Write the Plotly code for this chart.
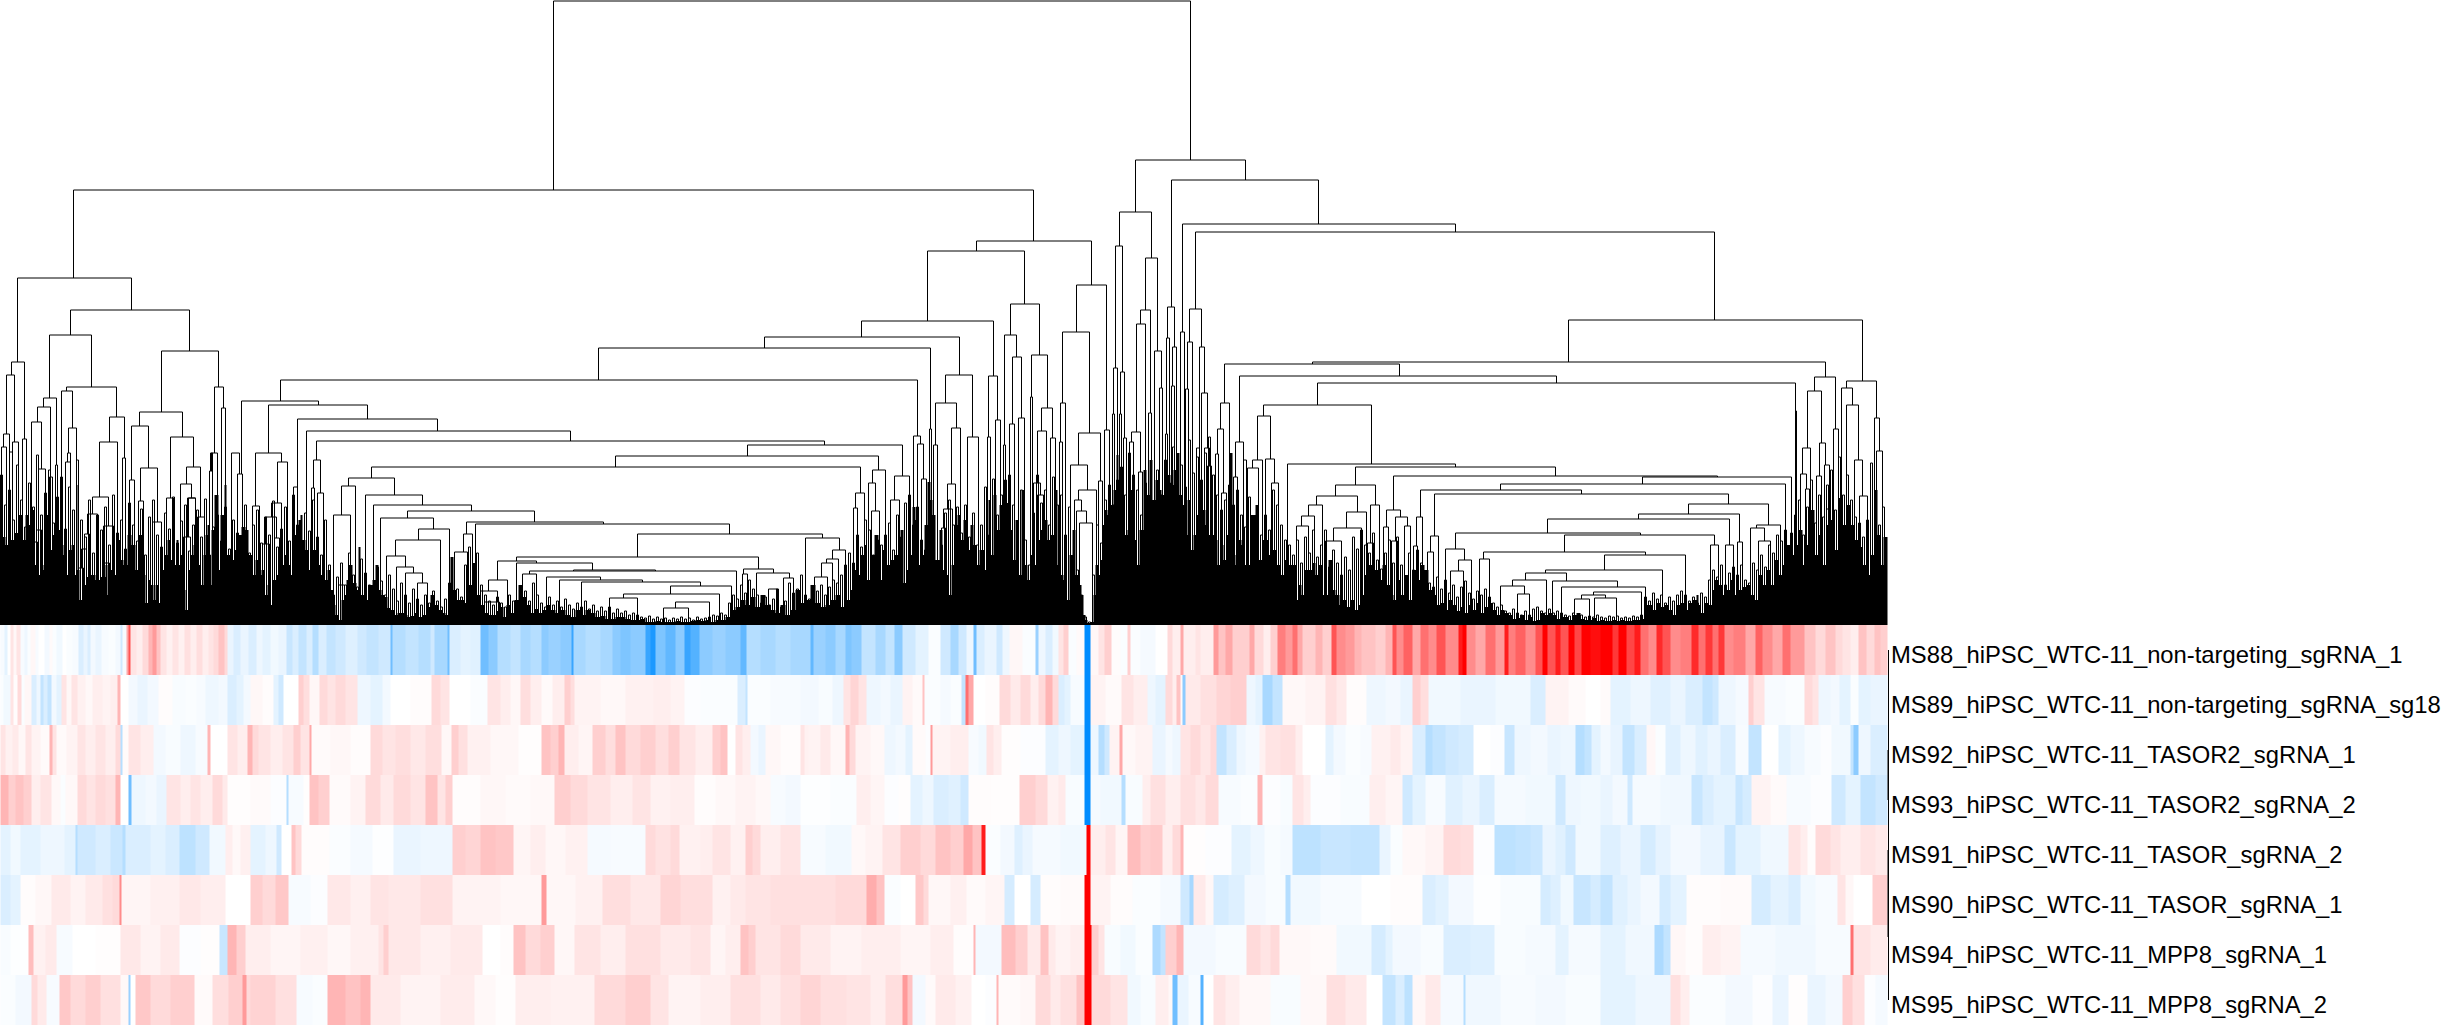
import plotly.graph_objects as go

row_labels = ["MS88_hiPSC_WTC-11_non-targeting_sgRNA_1", "MS89_hiPSC_WTC-11_non-targeting_sgRNA_sg18",
              "MS92_hiPSC_WTC-11_TASOR2_sgRNA_1", "MS93_hiPSC_WTC-11_TASOR2_sgRNA_2",
              "MS91_hiPSC_WTC-11_TASOR_sgRNA_2", "MS90_hiPSC_WTC-11_TASOR_sgRNA_1",
              "MS94_hiPSC_WTC-11_MPP8_sgRNA_1", "MS95_hiPSC_WTC-11_MPP8_sgRNA_2"]

# (end leaf position, expression score) runs for every row
ms88 = [(4,-.5),(7,-1.5),(10,0),(13,1.5),(16,.5),(20,1.5),(24,-.5),(27,-1),(30,-.3),(35,.5),(38,-.5),(44,0),(49,-.7),(52,.3),(56,-.3),(62,-.8),(66,0),(72,-.3),(78,-.5),(83,-2),(87,-1.2),(90,-2),(95,-.7),(101,-1.2),(108,-.5),(115,-.3),(120,-.7),(122,-2.5),(126,-.5),(128,4),(130,7),(136,1.5),(142,1),(148,2),(152,3.5),(156,4.5),(160,3),(166,1.5),(172,.8),(178,1.5),(184,.8),(190,1.7),(196,1),(202,1.8),(208,1),(213,1.5),(218,2),(224,3),(227,2),(233,-1.2),(240,-2),(248,-1.2),(256,-2),(262,-1),(270,-1.5),(278,-.8),(286,-1.2),(292,-2.8),(298,-2),(306,-3),(312,-2),(318,-3.5),(326,-2),(335,-3),(345,-2.5),(357,-1.8),(366,-2.5),(378,-3),(390,-2.5),(392,-6),(405,-3.5),(418,-3),(430,-3.5),(434,-2.5),(447,-4),(449,-6),(460,-2),(470,-1.5),(480,-1.7),(488,-6),(497,-5),(510,-3.5),(520,-3),(530,-4),(541,-3.5),(548,-5),(560,-4.5),(571,-5),(573,-8),(585,-4),(600,-3.5),(612,-4),(620,-5),(630,-5.5),(645,-5),(650,-8),(655,-9),(665,-5.5),(675,-6.5),(684,-5),(690,-8),(699,-7),(712,-5),(725,-4.5),(740,-5),(746,-6.5),(760,-3.5),(775,-4),(790,-3.5),(800,-4),
        (810,-4),(813,-6.5),(825,-4.5),(835,-5),(845,-4),(851,-5.5),(861,-5),(875,-3),(885,-4),(894,-3),(902,-5),(915,-2.5),(928,-1.5),(940,-.3),(950,-2.5),(958,-4),(966,-2.5),(973,-1),(976,-6),(984,-2),(996,-1.2),(1002,-2.5),(1009,-1),(1022,.5),(1035,-.3),(1038,-4.5),(1045,-1),(1052,-2),(1058,-.8),(1063,1.5),(1068,2.5),(1076,-.3),(1084,.3),(1090,-10),(1098,.5),(1104,1.5),(1111,2.5),(1120,.2),(1127,-.3),(1130,2.5),(1140,-.3),(1155,-.6),(1167,0),(1172,2),(1180,1),(1183,4),(1195,1),(1200,1.5),(1213,1),(1218,4.5),(1225,3),(1232,4),(1240,2.5),(1249,2.5),(1254,4),(1263,2),(1270,1),(1277,2.5),(1285,5.5),(1292,4.5),(1297,6),(1302,4),(1315,2.5),(1322,3.5),(1331,2.5),(1336,7),(1345,5),(1354,4.5),(1361,3.5),(1375,3),(1385,2.5),(1392,3.5),(1396,7),(1403,5),(1412,6.5),(1420,4),(1428,6),(1436,5),(1445,7),(1458,5),(1462,9),(1466,10),(1475,5),(1485,4),(1495,6),(1504,4.5),(1508,9),(1515,5.5),(1525,6.5),(1535,5),(1542,7),(1547,10),(1555,7),(1560,9),(1568,7),(1574,10),(1581,7.5),(1590,10),(1600,9.5),
        (1612,10),(1618,8),(1626,10),(1634,7.5),(1640,9),(1648,6),(1656,5),(1662,8.5),(1670,7),(1680,5),(1691,5.5),(1698,8.5),(1705,6),(1712,8),(1718,6),(1724,8),(1733,5),(1745,5.5),(1755,4),(1762,6.5),(1772,5),(1782,4),(1790,6),(1804,4.5),(1815,3),(1825,2),(1835,3),(1842,2),(1850,1.5),(1858,1),(1866,3),(1874,2),(1880,3),(1887,2.5)]
ms89 = [(3,-.3),(10,-.8),(13,1.5),(17,.2),(21,2),(24,-.3),(31,.5),(36,-2),(40,-1),(43,-3),(47,-2),(51,-3),(56,-.7),(61,-1.5),(66,1.5),(71,.5),(77,1.5),(85,.8),(92,.4),(102,1),(110,.7),(117,1),(120,3.5),(128,0),(137,-.7),(147,-1.2),(158,-.7),(172,.2),(185,-.4),(196,-.3),(205,-.5),(218,-1),(227,-.7),(236,-2),(243,-1.5),(250,-.7),(262,.5),(273,.2),(278,-1.5),(283,-2.5),(298,0),(303,2.5),(309,1.8),(319,.5),(327,2),(335,1.5),(345,2),(357,1.5),(370,-1),(382,-1.5),(390,-.7),(410,0),(431,.2),(440,2),(449,1.5),(470,0),(487,-.3),(500,1.5),(510,1),(520,.5),(530,1.8),(541,1),(552,.3),(564,1),(570,2.5),(574,1.8),(600,.7),(625,.4),(653,.8),(670,1),(684,.7),(700,-.2),(737,-.3),(745,-2),(747,-3),(770,-.3),(800,-.5),
        (818,-.7),(832,-.4),(843,-1),(850,1.5),(858,2.2),(866,1.5),(880,-1),(890,-.7),(902,-1.2),(912,.7),(922,.3),(924,3),(940,-.3),(950,-.6),(961,-.3),(965,-3),(968,6),(973,4),(985,0),(999,.2),(1010,2),(1020,1.2),(1030,2),(1038,1),(1045,2),(1052,3.5),(1058,2),(1064,-2),(1070,-1.5),(1084,-.5),(1090,-10),(1105,.7),(1121,.3),(1133,1.5),(1147,1),(1155,-1),(1165,-1.5),(1172,2),(1176,1),(1180,3),(1182,.3),(1185,-5),(1200,1.2),(1216,1.7),(1230,2.2),(1246,2.5),(1255,-1),(1262,-1.5),(1272,-4),(1282,-3),(1305,.4),(1325,.7),(1336,1.7),(1346,1.2),(1366,.2),(1385,-1),(1400,-.7),(1412,-1.2),(1420,2.5),(1428,1.8),(1460,-.8),(1495,-1.2),(1530,-.8),(1545,-2),(1568,.7),(1585,.3),(1600,0),
        (1610,.3),(1630,-1.5),(1650,-1),(1670,-1.7),(1685,-1.2),(1702,-2),(1712,-3),(1718,-2.5),(1735,-1),(1748,-.6),(1753,2.5),(1764,1.5),(1785,-.5),(1804,-.3),(1812,2),(1818,1.5),(1830,-1),(1839,-.7),(1850,-1.5),(1858,-.3),(1870,-1.5),(1887,-1.2)]
ms92 = [(5,1.5),(12,.8),(18,1.2),(25,.5),(31,1.5),(40,.7),(49,.3),(52,3.5),(56,1.5),(66,.3),(77,.7),(85,1.5),(95,1),(105,1.5),(115,1),(120,2),(122,-3.5),(128,.3),(140,1.5),(153,1),(165,-.7),(180,-.4),(195,-1),(207,-.5),(210,3.5),(227,0),(237,1.5),(247,1),(252,3.5),(258,2),(270,1.5),(282,1),(293,1.5),(300,2.5),(309,1.5),(311,4),(330,.3),(350,.5),(370,.2),(382,2),(395,1.5),(410,1.8),(425,1.3),(441,1.8),(451,.5),(458,2.5),(467,1.7),(490,.8),(518,.5),(541,.1),(550,3),(558,2.5),(564,3.5),(578,1),(592,.6),(605,2.5),(615,1.8),(625,3),(640,2),(655,2.5),(668,1.8),(679,2.5),(695,1.5),(712,1),(720,2.5),(727,3),(735,0),(742,1.5),(750,1),(758,-.7),(765,-1.2),(780,.5),(800,.2),
        (804,1.5),(808,.8),(820,.7),(830,1.2),(845,.5),(849,3.5),(855,2),(870,.7),(884,.4),(895,-1),(905,-.7),(912,-1.5),(925,.3),(930,-.2),(932,4.5),(950,.7),(968,1),(978,-.5),(986,-.8),(993,1.5),(1001,1),(1020,.1),(1045,-.2),(1058,-1.5),(1070,-1),(1084,-1.5),(1090,-10),(1098,-1),(1104,-3.5),(1109,-2.5),(1119,.7),(1122,4),(1135,.4),(1152,.7),(1165,-1.2),(1172,-.6),(1180,-1),(1190,1.5),(1200,2),(1210,1.4),(1216,2),(1226,-3),(1236,-2),(1245,-1),(1259,-.6),(1265,.8),(1280,1.5),(1295,1.7),(1302,1),(1325,0),(1333,-1.5),(1345,-.7),(1360,-.3),(1371,-.5),(1390,.8),(1400,1.2),(1412,.7),(1425,-2),(1432,-3.5),(1445,-3),(1458,-2.5),(1473,-2.2),(1490,0),(1504,-.2),(1514,-2.8),(1530,-1),(1547,-.7),(1560,-1.2),(1575,-1),(1584,-3.5),(1591,-3),(1600,-1.5),
        (1610,-.7),(1622,-1.3),(1634,-3),(1646,-2),(1655,.5),(1665,-.3),(1680,-1.7),(1695,-1),(1707,-1.7),(1720,-1.2),(1735,-2),(1748,-.5),(1761,-3),(1778,0),(1790,-1.5),(1804,-1),(1820,-.5),(1831,-.2),(1850,-.8),(1853,-3),(1858,-5),(1870,-1),(1887,-2)]
ms93 = [(8,3.5),(15,2.5),(23,3),(31,2.5),(40,1),(51,1.5),(60,.4),(65,-.3),(77,.4),(86,2),(95,1.5),(105,2),(115,1.7),(120,3.5),(128,0),(131,-6),(145,-1),(156,-.7),(166,-1.2),(180,1.5),(190,1),(200,1.5),(212,1),(222,2),(227,1.2),(250,.1),(270,.3),(286,-.2),(288,-3.5),(303,-.5),(309,.1),(318,3),(329,2.5),(350,.3),(365,.7),(380,2),(393,1.2),(410,2),(425,1.5),(437,3),(445,1.5),(452,2.5),(480,.2),(505,.5),(530,.3),(554,.4),(570,2.5),(587,2),(610,1.5),(632,1),(650,1.5),(670,.8),(694,1),(715,.2),(735,.4),(755,.7),(770,.4),(785,-.5),(800,-.7),
        (830,-.1),(856,-.3),(870,1),(884,.6),(898,-.2),(910,.1),(922,-1.5),(933,-1),(948,-2),(960,-1.7),(968,-2.5),(990,.2),(1019,.1),(1035,2.5),(1047,2),(1058,.8),(1065,1.2),(1084,-.4),(1090,-10),(1100,-.6),(1121,-.8),(1125,-3.5),(1142,-.4),(1150,1),(1165,1.7),(1180,1),(1195,1.7),(1205,1.3),(1218,2),(1240,-.5),(1257,-.3),(1262,3.5),(1280,-.2),(1292,-.4),(1303,1.5),(1310,1),(1340,-.2),(1369,-.4),(1385,1),(1402,.6),(1412,-2.5),(1425,-1.5),(1445,-.5),(1462,-1.7),(1479,-1.2),(1494,-2),(1525,-.6),(1555,-.8),(1565,-2.5),(1580,-1),(1600,-.8),
        (1612,-1.2),(1627,-.7),(1632,-2.5),(1660,-.6),(1691,-.9),(1702,-2.8),(1713,-2),(1735,-1.5),(1742,-2.8),(1751,-2.2),(1770,.7),(1786,.3),(1810,-.5),(1831,-.2),(1845,-2.5),(1860,-1.5),(1875,-3),(1887,-2.5)]
ms91 = [(10,-1.5),(20,-.8),(40,-1.5),(64,-1),(75,-1.5),(77,-3.5),(95,-2.5),(110,-2),(122,-2.7),(125,-3.5),(150,-2),(165,-1.5),(179,-2),(195,-3.2),(209,-2.5),(225,-.8),(232,1),(240,.4),(250,.9),(265,-1.5),(276,-1),(281,-2.5),(291,0),(295,3),(301,2),(329,.2),(350,-.3),(372,-.6),(393,-.1),(420,-1.2),(452,-1),(465,2.5),(480,2.2),(495,3),(513,2.8),(530,.6),(545,1),(565,.5),(587,.8),(610,-.6),(645,-.5),(655,2),(670,1.6),(679,2),(700,.8),(712,1),(730,1.5),(745,.8),(752,2.5),(760,2),(780,1),(800,1.5),
        (825,-.5),(851,-.8),(865,.4),(882,.7),(900,1.5),(920,2.5),(935,2),(950,3),(963,2.5),(972,4),(981,3),(985,9),(1000,-.3),(1014,-.7),(1022,-1.8),(1032,-1.2),(1060,-.6),(1086,-.8),(1090,10),(1105,1),(1115,1.5),(1127,.6),(1140,3.2),(1150,2.5),(1162,2.7),(1172,1),(1180,2),(1183,3.5),(1205,.1),(1231,-.2),(1250,-1.5),(1264,-1),(1280,-.4),(1292,-.6),(1320,-3.2),(1350,-2.8),(1379,-3),(1390,-1.2),(1402,-.3),(1425,.4),(1443,.7),(1460,2),(1473,1.8),(1494,-.2),(1515,-3.2),(1530,-3),(1542,-2.7),(1555,-1.2),(1565,-1.7),(1575,-2.5),(1600,-.8),
        (1620,-1.8),(1640,-1.2),(1655,-2.2),(1670,-1.4),(1700,-.7),(1724,-1.3),(1735,-2.7),(1760,-1.5),(1788,-.9),(1800,1.5),(1807,1),(1815,.2),(1830,2),(1840,1.5),(1860,1),(1875,1.5),(1887,1.2)]
ms90 = [(10,-2),(20,-1.5),(35,.2),(51,.5),(70,1.2),(85,.7),(102,1.2),(112,1.7),(119,2),(121,5),(150,.6),(179,.9),(200,1.3),(225,1),(250,0),(262,2.5),(275,2),(288,2.8),(310,-.5),(327,-.2),(350,1.3),(370,.9),(388,1.5),(420,1.3),(452,1.7),(500,.7),(541,.5),(546,4.5),(575,.5),(602,.8),(630,1.8),(660,1.3),(680,2.2),(712,1.8),(730,.8),(745,1.2),(770,1.5),(800,1.7),
        (835,1.7),(866,2),(876,3.8),(884,3),(900,-.3),(915,0),(923,2.8),(928,2),(950,.5),(966,.9),(985,.3),(1004,.6),(1014,-2.2),(1030,0),(1040,-2.2),(1060,.2),(1084,.3),(1090,10),(1110,.7),(1132,.2),(1160,-.3),(1180,-.6),(1189,-2.5),(1193,-4),(1205,1.2),(1213,.5),(1228,-2.2),(1244,-1.8),(1265,-.7),(1285,-.4),(1290,-3.5),(1320,-.8),(1361,-.5),(1390,0),(1422,.2),(1435,-2),(1448,-1.6),(1473,-.7),(1500,-.1),(1540,-.4),(1550,-2.2),(1560,-1.8),(1573,-.8),(1590,-2.8),(1600,-2.2),
        (1612,-3),(1627,-1.7),(1640,-1.2),(1659,-.7),(1670,-2.2),(1686,-1.5),(1720,.2),(1751,.3),(1770,-2.2),(1788,-1.5),(1800,-2),(1815,-.8),(1837,-.5),(1845,1.5),(1853,.5),(1872,0),(1887,2.5)]
ms94 = [(10,-.4),(28,-.1),(33,3.2),(45,.8),(56,1.2),(72,-.5),(95,0),(120,.1),(140,1.3),(160,.7),(179,1.2),(200,-.2),(219,.1),(227,-2.8),(236,3.5),(245,2.5),(270,1),(300,.6),(327,.9),(350,.5),(378,.9),(383,1.5),(388,2.5),(420,1.3),(450,.9),(482,1.2),(500,0),(513,.2),(525,3),(540,2),(554,2.5),(574,.5),(600,1.5),(625,1),(660,1.7),(690,1.2),(710,1.5),(725,.6),(740,1),(748,3),(755,2.5),(780,1.5),(800,2),
        (830,1.2),(861,.7),(900,1),(930,.6),(953,1),(973,.2),(975,3.5),(1001,-.7),(1015,3.2),(1027,2.5),(1040,1.2),(1048,3),(1055,1.2),(1070,.7),(1084,1),(1091,10),(1098,2.5),(1104,1.5),(1120,-.4),(1135,-.8),(1152,-.3),(1160,-3.8),(1165,-3),(1176,2.5),(1183,3.5),(1215,-.7),(1246,-.4),(1260,2),(1270,1.5),(1279,2),(1310,.4),(1336,.3),(1371,-.8),(1385,-2.2),(1392,-1.5),(1420,-.7),(1443,-.4),(1470,-2),(1494,-1.8),(1525,-.4),(1555,-.6),(1568,-1.5),(1600,-.6),
        (1625,-1.5),(1654,-.9),(1663,-3.8),(1670,-3),(1685,.5),(1702,.2),(1720,1),(1740,.7),(1775,-.6),(1815,-.9),(1850,-.5),(1853,6),(1870,1.5),(1887,1.1)]
ms95 = [(15,-.3),(31,-.7),(37,2),(46,1.2),(59,-.5),(70,2.8),(85,2),(100,2.5),(120,1.7),(128,.4),(130,-4.5),(135,0),(150,2.8),(170,2),(194,2.5),(212,.3),(228,1.8),(242,2.5),(246,4.5),(250,2),(275,2.3),(296,1.7),(312,-.5),(327,-.3),(345,3.5),(360,3),(370,3.5),(400,1.2),(440,.7),(474,1.1),(495,.4),(515,.1),(550,1),(594,.8),(625,2),(650,2.5),(668,1.5),(700,.7),(730,1),(760,1.7),(780,1.2),(800,1.7),
        (820,2.2),(846,1.7),(870,1.5),(885,1),(902,1.8),(907,4.5),(912,3),(925,-.7),(935,.3),(955,1.2),(971,.8),(985,0),(996,-.2),(998,3.5),(1020,.3),(1035,.5),(1050,2),(1060,1.2),(1076,1.7),(1084,3),(1091,10),(1110,2),(1127,1.5),(1140,-.8),(1155,-.4),(1168,1),(1172,.4),(1177,-6),(1188,-1.2),(1200,-.5),(1203,-7),(1213,0),(1225,1.5),(1239,1),(1270,.4),(1300,-.4),(1326,.4),(1345,1.7),(1366,1.2),(1382,0),(1395,-3),(1404,-2),(1412,-3.2),(1425,.5),(1440,1.2),(1463,-.6),(1465,-3.5),(1500,-.9),(1535,-.5),(1565,-.7),(1600,-.4),
        (1635,-1.5),(1670,-1),(1680,1.7),(1689,1),(1725,-.3),(1752,-.7),(1772,-.2),(1788,-1.2),(1807,.1),(1825,-1.2),(1842,-.7),(1852,2.5),(1864,1.7),(1875,-.2),(1887,-.6)]
rows = [ms88, ms89, ms92, ms93, ms91, ms90, ms94, ms95]

# merges of the column dendrogram: (left position, right position, merge height)
merges_top = [(553,1190,624),(1135,1245,465),(73,1033,435),(17,131,347),(70,189,315),(49,91,290),(161,218,274),(11,24,263),(6,14,250),(66,116,238),(43,56,227),(37,50,218),(61,72,234),(31,41,203),(68,76,197),(214,223,238),(221,225,217),(139,182,213),(131,148,199),(170,193,188),(109,124,208),(99,117,183),(3,9,191),(1,6,178),(12,18,183),(22,26,186),(9,12,173),(38,45,156),(49,52,148),(55,57,160),(65,70,163),(67,70,172),(186,200,158),(140,157,157),(180,191,141),(92,108,128),(210,212,172),(122,125,167),(129,134,145),(166,173,127),(188,195,127),(152,161,103),(138,143,124),(87,97,111),(103,113,99),(197,204,108),(84,89,91)]
merges_mid = [(280,917,245),(241,318,224),(268,367,220),(297,437,206),(306,570,194),(316,824,184),(747,902,180),(615,878,169),(371,860,158),(598,930,277),(764,959,288),(861,993,304),(927,1024,374),(976,1091,384),(1010,1039,321),(1076,1106,340),(1062,1089,293),(1004,1016,290),(1012,1021,268),(1031,1047,270),(945,972,250),(935,956,222),(967,978,188),(951,960,197),(988,997,249),(995,1000,205),(987,990,188),(1009,1014,201),(1018,1024,207),(1003,1005,180),(1030,1032,228),(1041,1052,217),(1037,1046,194),(1050,1055,187),(1060,1065,222),(1059,1062,183),(1078,1100,192),(1070,1087,160),(1078,1096,135),(1074,1081,125),(1076,1086,114),(1079,1092,102),(913,920,189),(917,923,181),(929,931,196),(933,937,180),(921,926,146),(894,909,149),(872,885,155),(868,875,142),(855,864,132),(853,857,117),(890,899,125),(871,879,114),(947,955,141),(943,952,116),(941,945,97),(1104,1109,195),(1098,1102,144),(1115,1122,379),(1119,1151,413),(1145,1157,367),(1140,1150,315),(1136,1145,301),(1154,1161,274),(1159,1162,237),(1148,1151,212),(1131,1140,193),(1129,1133,183),(1138,1142,153),(1113,1117,257),(1120,1124,253),(1112,1114,211),(1119,1121,211),(1123,1126,187),(1033,1040,142),(1037,1043,130)]
merges_right = [(1171,1318,445),(1182,1455,401),(1195,1714,393),(1167,1174,318),(1166,1169,287),(1172,1176,278),(1171,1174,239),(1165,1167,191),(1180,1184,293),(1185,1188,236),(1187,1192,283),(1189,1201,316),(1199,1204,278),(1201,1207,232),(1196,1199,177),(1204,1209,177),(1207,1211,159),(1224,1399,261),(1239,1556,249),(1317,1795,242),(1263,1371,220),(1220,1229,222),(1217,1223,196),(1215,1218,171),(1221,1226,132),(1235,1243,183),(1233,1237,148),(1243,1246,165),(1257,1270,209),(1252,1262,165),(1247,1258,157),(1265,1274,166),(1271,1278,142),(1287,1455,161),(1355,1555,158),(1393,1717,149),(1642,1791,148),(1500,1785,141),(1420,1581,135),(1434,1728,131),(1688,1768,121),(1638,1739,111),(1547,1729,106),(1455,1640,92),(1564,1714,90),(1483,1645,73),(1604,1685,70),(1545,1662,55),(1525,1566,52),(1512,1546,45),(1552,1617,44),(1561,1645,38),(1593,1641,33),(1581,1605,30),(1500,1524,39),(1594,1616,27),(1574,1589,26),(1517,1529,31),(1335,1375,140),(1316,1357,129),(1346,1366,113),(1308,1322,120),(1301,1314,109),(1333,1361,97),(1296,1308,99),(1325,1341,84),(1370,1379,120),(1367,1373,82),(1386,1400,115),(1395,1407,108),(1383,1388,98),(1404,1410,99),(1391,1397,84),(1416,1422,108),(1413,1417,79),(1430,1438,89),(1427,1433,73),(1445,1464,76),(1458,1471,65),(1450,1463,54),(1479,1489,66),(1710,1718,80),(1725,1733,80),(1737,1742,83),(1750,1764,97),(1756,1780,100),(1758,1770,84),(1795,1796,214),(1807,1821,234),(1814,1835,248),(1312,1825,263),(1568,1862,305),(1846,1876,244),(1841,1852,237),(1846,1858,220),(1874,1879,207),(1876,1882,174),(1854,1862,165),(1859,1867,129),(1833,1838,196),(1802,1810,177),(1819,1825,182),(1800,1806,151),(1816,1821,149),(1824,1829,160),(1805,1809,136),(1826,1829,116)]
merges_low = [(348,394,147),(341,355,139),(365,422,130),(373,471,120),(407,534,114),(380,433,107),(418,449,96),(395,440,85),(386,405,69),(396,413,58),(405,422,52),(417,427,42),(333,350,110),(463,472,91),(454,467,73),(466,603,103),(475,729,101),(637,822,91),(516,758,68),(497,536,64),(488,507,45),(516,592,62),(529,736,54),(573,655,55),(522,536,51),(546,600,48),(559,642,45),(581,700,43),(670,731,39),(623,719,31),(609,637,27),(675,709,23),(663,688,17),(743,773,56),(756,789,52),(805,839,87),(832,845,75),(826,838,66),(821,832,62),(814,827,48),(480,497,34),(484,499,23),(742,747,51),(768,777,36),(783,793,47),(187,195,127),(81,86,76),(183,190,88),(252,259,119),(255,281,172),(277,287,163),(271,281,122),(265,276,108),(262,269,81),(274,279,87),(293,297,138),(313,320,165),(311,314,137),(317,323,132),(231,239,172),(237,242,151),(211,217,172),(209,212,154),(36,41,95),(33,37,83),(78,83,57),(104,109,62),(338,344,40)]

# upper edge of the solid band of leaves: (position, height)
band_a = [(0,125),(2,88),(5,80),(8,60),(10,85),(14,92),(18,110),(22,85),(25,110),(28,100),(32,115),(34,60),(37,50),(40,60),(43,55),(44,120),(46,110),(48,95),(50,75),(52,90),(55,110),(58,95),(60,80),(63,70),(65,50),(68,75),(71,80),(74,50),(76,140),(77,55),(79,25),(82,40),(86,48),(90,50),(95,45),(100,48),(105,60),(107,30),(110,55),(112,70),(114,50),(117,85),(120,65),(123,60),(127,90),(131,80),(135,55),(138,90),(142,50),(145,22),(148,45),(150,40),(153,25),(155,40),(158,22),(160,55),(164,70),(167,85),(170,65),(173,60),(176,85),(178,60),(180,70),(182,35),(185,15),(188,55),(190,70),(193,80),(196,100),(198,60),(200,40),(203,70),(205,90),(207,100),(209,40),(211,95),(214,130),(218,55),(220,110),(224,140),(226,70),(230,65),(234,75),(237,90),(241,98),(245,95),(248,70),(252,50),(255,65),(258,50),(261,55),(264,30),(267,40),(269,20),(272,45),(276,50),(280,60),(284,70),(287,60),(290,50),(293,90),(296,100),(298,105),(300,110),(302,85),(305,75),(308,55),(312,75),(316,60),(320,50),(324,45),(327,55),(330,35),(333,20),(335,10),(338,5),(341,25),(344,30),(346,45),(348,60),(352,42),(356,35),(358,78),(360,30),(362,30),(365,25),(368,40),(372,45),(375,60),(378,35),(381,30),(384,28),(387,17),(390,15),(394,10),(397,12),(400,12),(404,10),(407,8),(410,9),(414,12),(418,8),(422,10),(426,18),(430,30),(434,20),(438,15),(442,12),(445,10),(448,20)]
band_b = [(450,68),(453,35),(456,25),(460,25),(464,22),(468,40),(472,62),(476,30),(480,20),(484,12),(488,10),(492,10),(496,14),(500,18),(503,8),(506,20),(510,12),(514,25),(518,40),(522,28),(526,20),(530,12),(534,16),(538,12),(542,15),(546,20),(550,15),(555,12),(560,15),(565,10),(570,8),(575,15),(580,10),(585,15),(590,12),(595,8),(600,9),(605,6),(610,6),(615,8),(620,8),(625,6),(630,5),(635,5),(640,6),(645,3),(650,3),(655,4),(660,3),(665,3),(670,3),(675,4),(680,3),(685,3),(690,4),(695,5),(700,4),(705,5),(710,3),(715,5),(720,5),(725,8),(730,15),(735,18),(740,25),(745,20),(750,28),(755,18),(760,30),(765,20),(770,15),(775,12),(780,20),(785,10),(790,15),(795,35),(800,22),(805,25),(810,40),(815,22),(820,18),(825,20),(830,25),(835,30),(840,18),(845,25),(850,35),(854,55),(857,50),(860,70),(864,80),(866,45),(870,70),(874,90),(878,45),(882,75),(886,60),(890,65),(894,70),(898,50),(900,95)]
band_c = [(903,42),(906,55),(910,70),(912,118),(915,105),(918,60),(921,70),(924,100),(927,143),(930,125),(932,110),(935,65),(939,95),(942,55),(945,50),(948,30),(951,60),(954,100),(957,110),(960,85),(963,105),(966,75),(970,100),(973,80),(976,60),(979,75),(982,75),(984,55),(988,125),(990,70),(993,130),(996,95),(999,120),(1002,115),(1005,122),(1008,95),(1012,65),(1015,105),(1018,50),(1021,135),(1024,60),(1027,45),(1030,70),(1033,60),(1036,85),(1040,95),(1044,105),(1047,85),(1050,90),(1054,135),(1057,60),(1060,50),(1063,45),(1066,25),(1069,70),(1072,95),(1075,50),(1078,40),(1081,30),(1083,10),(1085,5),(1087,2),(1090,3),(1093,30),(1095,60),(1098,50),(1100,65),(1102,100),(1104,115),(1107,110),(1110,120),(1113,135),(1116,170),(1118,130),(1121,125),(1124,90),(1127,95),(1130,135),(1133,85),(1136,60),(1139,95),(1143,155),(1146,130),(1149,165),(1152,125),(1155,145),(1158,135),(1161,130),(1164,140),(1167,150),(1170,140),(1173,155),(1176,172),(1179,130),(1182,120),(1184,90),(1187,125),(1190,75),(1193,90),(1196,110),(1199,110),(1202,115),(1205,100),(1208,90),(1211,90),(1214,85),(1217,60),(1220,80),(1223,65),(1226,90),(1229,172),(1232,70),(1235,60),(1238,85),(1241,80),(1244,60),(1247,60),(1250,110),(1255,120),(1258,65),(1262,85),(1268,70),(1272,75),(1276,60),(1280,50),(1284,65),(1288,60)]
band_d = [(1290,60),(1293,60),(1296,25),(1298,40),(1301,30),(1304,55),(1308,55),(1312,62),(1315,50),(1318,60),(1322,30),(1325,30),(1328,65),(1332,35),(1335,30),(1339,20),(1342,25),(1346,18),(1350,25),(1354,15),(1358,20),(1361,30),(1364,50),(1367,60),(1370,60),(1374,55),(1378,45),(1382,60),(1386,40),(1390,30),(1393,25),(1397,45),(1400,30),(1404,50),(1408,25),(1412,55),(1416,45),(1420,60),(1424,55),(1428,35),(1432,30),(1436,20),(1440,22),(1444,15),(1448,25),(1452,20),(1456,14),(1460,18),(1464,12),(1468,20),(1472,15),(1476,22),(1480,12),(1484,18),(1488,22),(1492,15),(1496,10),(1500,15),(1504,12),(1508,10),(1512,6),(1516,7),(1520,10),(1524,5),(1528,8),(1532,4),(1536,5),(1540,12),(1544,10),(1548,12),(1552,10),(1556,6),(1560,8),(1564,8),(1568,5),(1572,10),(1576,12),(1580,6),(1584,5),(1588,5),(1592,7),(1596,4),(1600,5),(1604,4),(1608,4),(1612,5),(1616,4),(1620,5),(1624,4),(1628,4),(1632,5),(1636,5),(1640,6),(1644,20),(1648,20),(1652,15),(1656,22),(1660,18),(1664,20),(1668,15),(1672,10),(1676,20),(1680,22),(1684,15),(1688,22),(1692,25),(1696,30),(1698,20),(1700,12),(1704,22),(1708,20),(1712,35),(1714,45),(1718,40),(1722,30),(1726,35),(1730,45),(1734,30),(1738,35),(1742,38),(1746,40),(1750,30),(1754,25),(1758,50),(1762,40),(1766,55),(1770,40),(1774,65),(1778,50),(1782,60),(1786,80),(1790,70),(1794,80),(1798,95),(1802,60),(1806,80),(1810,115),(1814,70),(1818,90),(1822,60),(1826,100),(1830,105),(1834,75),(1838,127),(1842,100),(1846,120),(1850,100),(1854,85),(1858,78),(1862,60),(1866,50),(1870,70),(1874,135),(1877,90),(1880,60),(1883,88),(1887,88)]

# narrow leaf clusters standing on the band: (first position, heights, one every 4 positions)
fringe_runs = [
    (0, [150,120,135,105,160,125,98,142,118,170,110,132,155,102,128,148,96,138,115,165,
         105,88,125,72,110,95,118,80,130,92,105,76,122,100,84,116,70,108,125,90,
         78,112,96,128,82,104,120,74,100,115,88,126,70,98,110,84,118,76,105,92,
         86,120,72,100,115,82,108,90,124,78,96,118,84,130,100,76,112,94,125,88,70,105,60]),
    (332, [30,48,62,40,72,50,38,66,52,40,34,58,44,30,50,36,24,42,30,22,
           36,26,20,30,22,34,24,18,26,42,30,36,28,60,78,46,72,40,30,24,
           20,28,22,18,30,24,16,26,34,24,42,30,22,18,28,20,24,18,26,20,
           16,22,18,24,16,20,14,18,14,18,12,16,12,14,10,12,10]),
    (640, [8,7,9,6,8,6,7,5,7,6,8,6,7,5,8,6,7,8,10,9,12,10]),
    (728, [22,30,26,40,32,45,36,30,22,28,20,26,36,18,24,42,32,36,50,30,26,28,34,40,30,38,45,42,50,60]),
    (848, [72,62,90,78,105,95,70,85,80,90,102,75,110,88,122,130,100,118,85,75,
           98,72,62,80,112,125,100,118,92,120,88,112,80,100,138,90,146,110,130,145,
           150,120,100,135,85,60,112,150,122,135,100,148,120,130,90,118,65,55]),
    (1080, [30,8,3]),
    (1092, [50,100,82,125,140,120,145,158,130,172,150,135,110,142,128,118,155,130,165,142,
            178,150,160,138,185,152,168,145,172,188,150,130,115,125,140,120,135,110,98,128,
            105,118,90,110,95,135,120,100,85,80]),
    (1292, [70,85,62,88,72,95,68,80,95,58,75,62,50,68,55,88,76,95,80,72,92,65,56,72,85,62,88]),
    (1400, [60,48,72,55,75,62,50,42,38,48,36,45,32,40,28,38,44,32,26,34,30,36,28,22,18]),
    (1500, [20,14,12,16,12,10,14,10,16,18,14,12,16,12,14,12,10,9,12,9,10,8,9,8,10,8,7,9,8,9,7,8,7,9,8]),
    (1640, [10,28,24,32,26,30,22,28,24,30,34,30,24,28,22]),
    (1700, [32,28,45,55,48,60,40,52,58,50,60,45,42,62,55,70,58,80,72,90,84,95]),
    (1790, [92,110,125,90,118,145,102,130,108,140,155,115,168,130,150,125,108,102,88,105,162,125,100,118,112]),
]

# collapsed row dendrogram beside the heat map: (first row, last row, line width)
row_dendro = [(0, 7, 1), (2, 3, 2), (4, 5.74, 2)]

merges = merges_top + merges_mid + merges_right + merges_low
band = sorted(band_a + band_b + band_c + band_d)


def leg_bottom(x, h):
    below = [m[2] for m in merges if m[0] <= x <= m[1] and m[2] < h]
    return max(below) if below else 0


link_x, link_y = [], []
for start, heights in fringe_runs:
    for i, h in enumerate(heights):
        left = start + i * 4
        if left + 2 <= 1887:
            link_x += [left, left, left + 2, left + 2, None]
            link_y += [0, h, h, 0, None]
for left, right, h in merges:
    link_x += [left, left, right, right, None]
    link_y += [leg_bottom(left, h), h, h, leg_bottom(right, h), None]

fig = go.Figure()
fig.add_trace(go.Scatter(x=[p[0] for p in band], y=[p[1] for p in band], mode="lines", fill="tozeroy",
                         fillcolor="#000000", line=dict(color="#000000", width=0, shape="hv"),
                         xaxis="x", yaxis="y", hoverinfo="skip"))
fig.add_trace(go.Scatter(x=link_x, y=link_y, mode="lines", line=dict(color="#000000", width=1),
                         xaxis="x", yaxis="y", hoverinfo="skip"))
colour_stops = [[0, "rgb(0,140,255)"], [0.25, "rgb(140,203,255)"], [0.35, "rgb(195,228,255)"], [0.4, "rgb(218,238,255)"],
                [0.45, "rgb(238,247,255)"], [0.5, "rgb(255,255,255)"], [0.55, "rgb(255,238,238)"], [0.6, "rgb(255,218,218)"],
                [0.65, "rgb(255,195,195)"], [0.75, "rgb(255,140,140)"], [1, "rgb(255,0,0)"]]
for i, row in enumerate(rows):
    edges = [0] + [r[0] for r in row]
    fig.add_trace(go.Heatmap(x=edges, y=[i - 0.5, i + 0.5], z=[[r[1] for r in row]], zmin=-10, zmax=10,
                             colorscale=colour_stops, showscale=False, xaxis="x2", yaxis="y2", hoverinfo="skip"))
for first, last, width in row_dendro:
    fig.add_trace(go.Scatter(x=[1888, 1888], y=[first, last], mode="lines", line=dict(color="#000000", width=width),
                             xaxis="x2", yaxis="y2", hoverinfo="skip"))

PW, PH = 2444, 1025
x_dom = [0, 1889 / PW]
fig.update_layout(
    width=PW, height=PH, margin=dict(l=0, r=0, t=0, b=0), showlegend=False,
    paper_bgcolor="white", plot_bgcolor="white",
    xaxis=dict(domain=x_dom, range=[-0.5, 1888.5], visible=False),
    yaxis=dict(domain=[400 / PH, 1], range=[0, 625], visible=False),
    xaxis2=dict(domain=x_dom, range=[-0.5, 1888.5], visible=False, anchor="y2"),
    yaxis2=dict(domain=[0, 400 / PH], range=[7.5, -0.5], anchor="x2", side="right",
                tickmode="array", tickvals=list(range(8)), ticktext=row_labels, ticks="",
                showgrid=False, zeroline=False, showline=False, ticklabelstandoff=1, ticklabelshift=-5,
                tickfont=dict(family="Liberation Sans", size=23.8, color="#000000")),
)
fig.write_html("out.html", config={"displayModeBar": False},
               post_script="document.body.style.margin='0';document.body.style.overflow='hidden';")
